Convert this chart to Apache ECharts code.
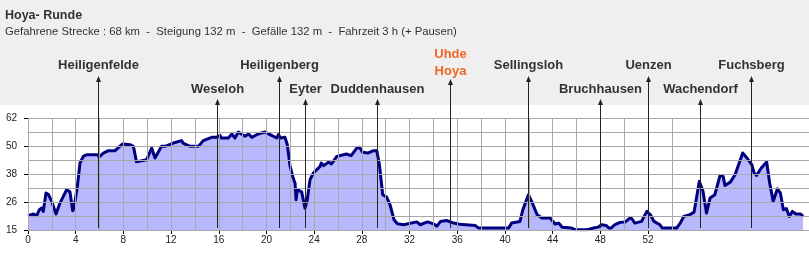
<!DOCTYPE html>
<html><head><meta charset="utf-8">
<script src="https://cdn.jsdelivr.net/npm/echarts@6/dist/echarts.min.js"></script>
<style>
html,body{margin:0;padding:0;background:#fff;}
#c{width:809px;height:253px;background:linear-gradient(#efefef 0px,#efefef 105px,#ffffff 105px,#ffffff 100%);}
</style></head><body><div id="c"></div>
<script>
// ---- data ----
const distanceKm = [0,0.45,0.73,0.95,1.15,1.28,1.51,1.70,1.99,2.35,2.68,3.24,3.52,3.75,3.85,4.14,4.36,4.64,4.90,5.90,5.95,6.32,6.74,7.30,7.94,8.55,8.84,9.10,9.95,10.37,10.65,11.20,11.50,12.19,12.89,13.00,13.59,14.29,14.70,15.40,15.80,16.10,16.20,16.80,17.10,17.36,17.64,18.20,18.50,18.76,19.30,19.88,20.30,20.86,21.00,21.20,21.55,21.75,21.97,22.20,22.40,22.48,22.60,22.95,23.23,23.40,23.65,23.93,24.50,24.60,24.80,25.20,25.45,25.90,26.70,27.10,27.57,27.80,28.07,28.50,28.97,29.25,29.47,29.75,30.08,30.36,30.70,30.98,31.50,32.60,32.90,33.50,34.00,34.30,34.60,35.10,35.70,36.20,37.50,37.80,40.30,40.56,41.26,41.50,41.97,42.30,42.70,43.10,43.80,44.20,44.50,44.80,45.60,45.90,46.90,47.40,47.80,48.10,48.50,48.70,48.90,49.20,49.65,50.10,50.55,50.90,51.45,51.90,52.20,52.50,53.00,53.20,54.40,54.70,55.00,55.50,55.86,56.30,56.60,56.90,57.20,57.60,58.04,58.30,58.45,58.90,59.30,59.94,60.30,60.70,60.90,61.10,61.50,61.95,62.20,62.50,62.85,63.10,63.35,63.60,63.85,64.10,64.40,64.80,65.00];
const elevationM = [21.0,21.7,21.0,23.5,24.2,22.8,30.5,30.0,27.0,21.7,26.3,31.9,31.0,23.1,24.0,33.3,43.1,45.9,46.6,46.6,45.6,47.3,48.3,48.3,51.1,50.8,50.1,43.6,44.5,49.4,45.2,50.1,50.1,51.5,52.5,51.5,50.1,50.1,52.5,53.9,53.9,54.7,53.6,53.6,55.3,53.6,56.1,54.3,55.3,53.9,55.3,56.1,55.0,53.6,55.0,53.6,53.9,50.8,42.0,37.5,34.5,27.7,31.9,31.0,24.2,27.0,36.1,38.9,41.7,43.1,42.0,43.5,42.7,45.9,46.9,46.2,49.4,49.7,47.6,47.3,48.3,48.3,42.4,29.8,28.8,25.6,19.3,17.6,17.2,18.4,17.2,18.4,17.6,16.6,18.6,19.0,17.9,17.4,16.9,15.8,15.8,17.9,18.6,23.5,29.8,26.3,21.4,20.0,20.0,17.5,17.9,16.2,15.8,15.1,15.1,15.8,16.2,17.2,16.9,15.8,15.8,17.2,18.2,18.4,20.3,17.9,18.6,22.8,21.4,18.6,17.2,15.8,15.8,17.9,20.7,21.4,22.5,35.4,31.5,22.1,28.4,29.8,37.9,37.5,33.7,35.1,38.2,47.3,45.2,42.4,38.9,37.9,41.0,43.5,34.7,27.0,32.3,30.5,23.5,24.0,20.7,22.8,21.7,21.7,20.7];
const placeNames = ['Heiligenfelde','Weseloh','Heiligenberg','Eyter','Duddenhausen','Uhde\nHoya','Sellingsloh','Bruchhausen','Uenzen','Wachendorf','Fuchsberg'];
const placeKm    = [5.9,15.83,21.08,23.27,29.25,35.35,41.97,48.0,52.0,56.4,60.6];
const placeRow   = [0,1,0,1,1,2,0,1,0,1,0];   // 0 upper row, 1 lower row, 2 highlighted (two lines)
const xTickValues = [0,4,8,12,16,20,24,28,32,36,40,44,48,52];
const yTickValues = [15,26.75,38.5,50.25,62];
const yTickLabels = ['15','26','38','50','62'];
const xGridValues = [0,2,4,6,8,10,12,14,16,18,20,22,24,26,28,30,32,34,36,38,40,42,44,46,48,50,52,54];
const yGridValues = [15,20.875,26.75,32.625,38.5,44.375,50.25,56.125,62];
const titleText = 'Hoya- Runde';
const subtitleText = 'Gefahrene Strecke : 68 km  -  Steigung 132 m  -  Gefälle 132 m  -  Fahrzeit 3 h (+ Pausen)';

// ---- chart ----
const FONT = '"Liberation Sans", Arial, sans-serif';
const profile = distanceKm.map((d, i) => [d, elevationM[i]]);
const places = placeKm.map((k, i) => [k, placeRow[i], i]);
const chart = echarts.init(document.getElementById('c'), null, {renderer: 'canvas'});
const gridLineData = yGridValues.map(v => ({yAxis: v})).concat(xGridValues.map(v => ({xAxis: v})));

chart.setOption({
  animation: false,
  backgroundColor: 'transparent',
  title: [
    {text: titleText, left: 5, top: 9, padding: 0,
     textStyle: {fontFamily: FONT, fontSize: 12.5, fontWeight: 'bold', color: '#333'}},
    {text: subtitleText, left: 5, top: 26, padding: 0,
     textStyle: {fontFamily: FONT, fontSize: 11.3, fontWeight: 'normal', color: '#333'}}
  ],
  grid: {left: 28, right: 0, top: 118, bottom: 23, containLabel: false},
  xAxis: {
    type: 'value', min: 0, max: 65.5,
    axisLine: {show: true, lineStyle: {color: '#aaa', width: 1}},
    axisTick: {show: true, length: 4, customValues: xTickValues, lineStyle: {color: '#000'}},
    axisLabel: {show: true, customValues: xTickValues, margin: 5, fontFamily: FONT, fontSize: 10, color: '#222'},
    splitLine: {show: false}
  },
  yAxis: {
    type: 'value', min: 15, max: 62,
    axisLine: {show: false},
    axisTick: {show: true, length: 4, customValues: yTickValues, lineStyle: {color: '#000'}},
    axisLabel: {show: true, customValues: yTickValues, margin: 11, fontFamily: FONT, fontSize: 10, color: '#222',
      formatter: v => yTickLabels[yTickValues.findIndex(t => Math.abs(t - v) < 1e-6)] || ''},
    splitLine: {show: false}
  },
  series: [
    {
      type: 'line', data: [], z: 1, silent: true,
      markLine: {silent: true, symbol: 'none', label: {show: false}, animation: false,
        lineStyle: {color: '#a8a8a8', width: 1, type: 'solid'}, emphasis: {disabled: true},
        data: gridLineData}
    },
    {
      type: 'line', data: profile, z: 2, symbol: 'none', smooth: false,
      lineStyle: {color: '#000080', width: 3, join: 'round'},
      areaStyle: {color: 'rgba(0,0,255,0.4)', origin: 'start'}
    },
    {
      type: 'custom', data: places, z: 5, clip: false, silent: true,
      renderItem: function (params, api) {
        const km = api.value(0), row = api.value(1), idx = api.value(2);
        const base = api.coord([km, 15]);
        const x = Math.round(base[0]) + 0.5;
        const bottom = base[1] - 2;
        const arrowTop = row === 0 ? 76 : (row === 1 ? 99 : 79);
        const textY = row === 0 ? 65 : (row === 1 ? 89 : 62.5);
        const color = row === 2 ? '#f26522' : '#333';
        return {
          type: 'group',
          children: [
            {type: 'line', shape: {x1: x, y1: arrowTop + 3, x2: x, y2: bottom}, style: {stroke: '#222', lineWidth: 1}},
            {type: 'polygon', shape: {points: [[x, arrowTop], [x - 2.5, arrowTop + 6], [x + 2.5, arrowTop + 6]]}, style: {fill: '#222'}},
            {type: 'text', style: {text: placeNames[idx], x: x, y: textY, align: 'center', verticalAlign: 'middle',
              font: 'bold 13px ' + FONT, fill: color, lineHeight: 17}}
          ]
        };
      }
    }
  ]
});
</script></body></html>
